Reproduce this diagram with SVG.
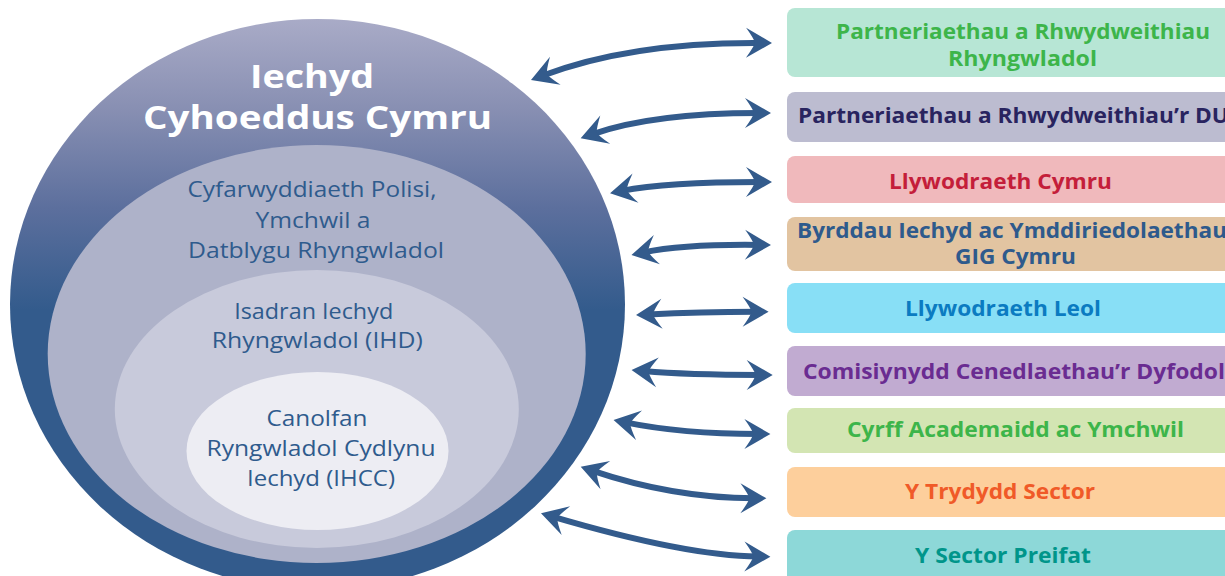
<svg xmlns="http://www.w3.org/2000/svg" width="1225" height="576" viewBox="0 0 1225 576">
<style>
.ct{font-family:"Open Sans","Noto Sans","Liberation Sans",sans-serif;font-size:22px;fill:#2f5b8d;text-anchor:middle}
.tt{font-family:"Open Sans","Noto Sans","Liberation Sans",sans-serif;font-size:33px;font-weight:bold;fill:#ffffff;text-anchor:middle}
.bt{font-family:"Open Sans","Noto Sans","Liberation Sans",sans-serif;font-size:21px;font-weight:bold}
.conn path{fill:none;stroke:#335b8c;stroke-width:6;marker-start:url(#head);marker-end:url(#head)}
</style>
<defs>
<linearGradient id="outerGrad" gradientUnits="userSpaceOnUse" x1="0" y1="19" x2="0" y2="310">
<stop offset="0" stop-color="#a9abc7"/>
<stop offset="0.3" stop-color="#8990b3"/>
<stop offset="0.65" stop-color="#5c6f9d"/>
<stop offset="1" stop-color="#335b8c"/>
</linearGradient>
<marker id="head" markerUnits="userSpaceOnUse" viewBox="-15 -16 28 32" refX="0" refY="0" markerWidth="28" markerHeight="32" orient="auto-start-reverse">
<path d="M12,0 L-14,-15 Q-6,-4 -5,0 Q-6,4 -14,15 Z" fill="#335b8c"/>
</marker>
</defs>

<g id="outer">
<ellipse cx="317.5" cy="304.5" rx="307.5" ry="285.5" fill="url(#outerGrad)"/>
<text class="tt" x="312" y="88" textLength="124" lengthAdjust="spacingAndGlyphs">Iechyd</text>
<text class="tt" x="317.5" y="129" textLength="349" lengthAdjust="spacingAndGlyphs">Cyhoeddus Cymru</text>
</g>
<g id="policy">
<ellipse cx="316.7" cy="354" rx="269" ry="209" fill="#aeb2c9"/>
<text class="ct" x="312" y="197" textLength="249" lengthAdjust="spacingAndGlyphs">Cyfarwyddiaeth Polisi,</text>
<text class="ct" x="313" y="228" textLength="115" lengthAdjust="spacingAndGlyphs">Ymchwil a</text>
<text class="ct" x="316" y="258" textLength="256" lengthAdjust="spacingAndGlyphs">Datblygu Rhyngwladol</text>
</g>
<g id="ihd">
<ellipse cx="316.8" cy="409" rx="202" ry="139" fill="#c8cadb"/>
<text class="ct" x="313.7" y="319" textLength="159" lengthAdjust="spacingAndGlyphs">Isadran Iechyd</text>
<text class="ct" x="317.3" y="348" textLength="211" lengthAdjust="spacingAndGlyphs">Rhyngwladol (IHD)</text>
</g>
<g id="ihcc">
<ellipse cx="317.5" cy="451" rx="131" ry="79" fill="#ededf3"/>
<text class="ct" x="317" y="426" textLength="101" lengthAdjust="spacingAndGlyphs">Canolfan</text>
<text class="ct" x="321" y="456" textLength="229" lengthAdjust="spacingAndGlyphs">Ryngwladol Cydlynu</text>
<text class="ct" x="321" y="486" textLength="148" lengthAdjust="spacingAndGlyphs">Iechyd (IHCC)</text>
</g>

<g id="connectors" class="conn">
<path d="M542.2,75.7 Q631,42 760,42.9"/>
<path d="M592,134.3 Q653,113 759,113"/>
<path d="M621.8,190.9 Q666,182 760,182"/>
<path d="M643.2,252.5 Q684,244 759,244.9"/>
<path d="M648,314.4 Q700,312 756.6,311.8"/>
<path d="M643.5,371.1 Q687,375 760.7,375"/>
<path d="M625.3,422.4 Q682,434 758.4,434"/>
<path d="M592.1,470.6 Q673,498 754.4,498.3"/>
<path d="M552.5,516.7 Q686,556 758.4,556.6"/>
</g>

<g id="box-international">
<rect x="787" y="8" width="460" height="69" rx="8" fill="#b7e6d5"/>
<text class="bt" x="836" y="39" fill="#3db54a" textLength="374" lengthAdjust="spacingAndGlyphs">Partneriaethau a Rhwydweithiau</text>
<text class="bt" x="948" y="66" fill="#3db54a" textLength="149" lengthAdjust="spacingAndGlyphs">Rhyngwladol</text>
</g>
<g id="box-uk">
<rect x="787" y="92" width="460" height="50" rx="8" fill="#bcbcd0"/>
<text class="bt" x="798" y="123" fill="#29245f" textLength="431" lengthAdjust="spacingAndGlyphs">Partneriaethau a Rhwydweithiau’r DU</text>
</g>
<g id="box-welsh-gov">
<rect x="787" y="156" width="460" height="47" rx="8" fill="#f0b9bc"/>
<text class="bt" x="889" y="189" fill="#c41e3a" textLength="223" lengthAdjust="spacingAndGlyphs">Llywodraeth Cymru</text>
</g>
<g id="box-nhs">
<rect x="787" y="217" width="460" height="54" rx="8" fill="#e2c4a1"/>
<text class="bt" x="797" y="238" fill="#2e5a8c" textLength="430" lengthAdjust="spacingAndGlyphs">Byrddau Iechyd ac Ymddiriedolaethau</text>
<text class="bt" x="955" y="264" fill="#2e5a8c" textLength="121" lengthAdjust="spacingAndGlyphs">GIG Cymru</text>
</g>
<g id="box-local-gov">
<rect x="787" y="283" width="460" height="50" rx="8" fill="#88dff6"/>
<text class="bt" x="905" y="316" fill="#0b7bc1" textLength="196" lengthAdjust="spacingAndGlyphs">Llywodraeth Leol</text>
</g>
<g id="box-future-gen">
<rect x="787" y="346" width="460" height="50" rx="8" fill="#c1abd1"/>
<text class="bt" x="803" y="379" fill="#6a2c91" textLength="422" lengthAdjust="spacingAndGlyphs">Comisiynydd Cenedlaethau’r Dyfodol</text>
</g>
<g id="box-academic">
<rect x="787" y="408" width="460" height="45" rx="8" fill="#d3e5b3"/>
<text class="bt" x="847" y="437" fill="#3db54a" textLength="337" lengthAdjust="spacingAndGlyphs">Cyrff Academaidd ac Ymchwil</text>
</g>
<g id="box-third-sector">
<rect x="787" y="467" width="460" height="50" rx="8" fill="#fdcf9c"/>
<text class="bt" x="905" y="499" fill="#f05a28" textLength="190" lengthAdjust="spacingAndGlyphs">Y Trydydd Sector</text>
</g>
<g id="box-private">
<rect x="787" y="530" width="460" height="60" rx="8" fill="#8dd8d8"/>
<text class="bt" x="915" y="563" fill="#00958a" textLength="176" lengthAdjust="spacingAndGlyphs">Y Sector Preifat</text>
</g>
</svg>
